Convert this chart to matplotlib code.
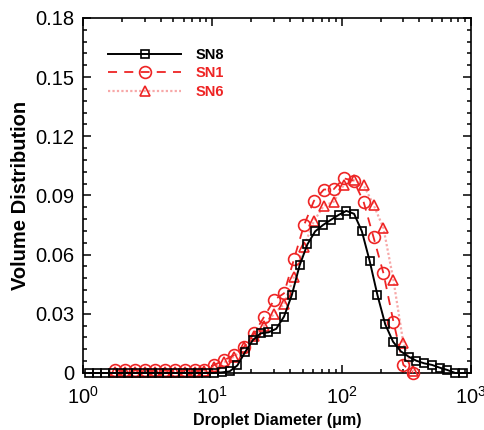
import matplotlib
matplotlib.use("Agg")
import matplotlib.pyplot as plt
from matplotlib.ticker import FixedLocator, FixedFormatter, LogLocator, NullFormatter
from matplotlib.lines import Line2D

plt.rcParams['font.family'] = ['Liberation Sans', 'DejaVu Sans']
plt.rcParams['mathtext.fontset'] = 'custom'
plt.rcParams['mathtext.rm'] = 'Liberation Sans'
plt.rcParams['mathtext.it'] = 'Liberation Sans:italic'
plt.rcParams['mathtext.bf'] = 'Liberation Sans:bold'

# SN8 size bins (um) and volume distribution
d_sn8 = [1.122, 1.289, 1.481, 1.701, 1.954, 2.244, 2.578, 2.961, 3.401, 3.906,
         4.487, 5.154, 5.920, 6.800, 7.811, 8.972, 10.31, 11.84, 13.60, 15.62,
         17.94, 20.61, 23.67, 27.19, 31.23, 35.87, 41.21, 47.33, 54.37, 62.45,
         71.73, 82.39, 94.64, 108.7, 124.9, 143.5, 164.8, 189.3, 217.4, 249.7,
         286.8, 329.4, 378.4, 434.6, 499.3, 573.5, 658.7, 756.6, 871.0]
v_sn8 = [0.0, 0.0, 0.0, 0.0, 0.0, 0.0, 0.0, 0.0, 0.0, 0.0,
         0.0, 0.0, 0.0, 0.0, 0.0, 0.0, 0.0, 0.0003, 0.0008, 0.0038,
         0.0106, 0.0167, 0.0201, 0.0206, 0.0224, 0.0286, 0.0395, 0.0545, 0.0652, 0.0718,
         0.0750, 0.0776, 0.0801, 0.0822, 0.0807, 0.0718, 0.0568, 0.0395, 0.0247, 0.0159,
         0.0110, 0.0083, 0.0062, 0.0049, 0.0041, 0.0027, 0.0015, 0.0, 0.0]

# SN1 / SN6 size bins (um)
d_red = [1.768, 2.110, 2.519, 3.007, 3.590, 4.285, 5.115, 6.106, 7.289, 8.701,
         10.39, 12.40, 14.80, 17.67, 21.09, 25.18, 30.05, 35.88, 42.83, 51.12,
         61.03, 72.85, 86.96, 103.8, 123.9, 147.9, 176.6, 210.8, 251.6, 300.4, 358.6]
v_sn1 = [0.0013, 0.0013, 0.0013, 0.0013, 0.0013, 0.0013, 0.0013, 0.0013, 0.0013, 0.0017,
         0.0041, 0.0066, 0.0091, 0.0133, 0.0201, 0.0285, 0.0370, 0.0404, 0.0577, 0.0748,
         0.0872, 0.0930, 0.0932, 0.0987, 0.0975, 0.0868, 0.0688, 0.0505, 0.0260, 0.0041, 0.0]
v_sn6 = [0.0005, 0.0005, 0.0005, 0.0005, 0.0005, 0.0005, 0.0005, 0.0005, 0.0006, 0.0010,
         0.0030, 0.0055, 0.0083, 0.0130, 0.0190, 0.0240, 0.0300, 0.0349, 0.0488, 0.0640,
         0.0770, 0.0848, 0.0868, 0.0953, 0.0978, 0.0953, 0.0853, 0.0734, 0.0471, 0.0150, 0.0010]

labels = ['SN8', 'SN1', 'SN6']
y_ticks = [0, 0.03, 0.06, 0.09, 0.12, 0.15, 0.18]
y_ticklabels = ['0', '0.03', '0.06', '0.09', '0.12', '0.15', '0.18']

RED = '#ee2424'
PINK = '#f7a8a8'

fig = plt.figure(figsize=(4.85, 4.30), dpi=100)
ax = fig.add_axes([0.171, 0.1326, 0.80, 0.8256])

ax.plot(d_red, v_sn6, linestyle=(0, (1, 1)), color=PINK, lw=1.6,
        marker='^', ms=7.5, mfc='none', mec=RED, mew=1.2, clip_on=False, zorder=3)
ax.plot(d_red, v_sn1, linestyle=(0, (5, 4)), color=RED, lw=1.3,
        marker='o', ms=8.5, mfc='none', mec=RED, mew=1.2, clip_on=False, zorder=4)
ax.plot(d_sn8, v_sn8, linestyle='-', color='black', lw=1.4,
        marker='s', ms=6.0, mfc='none', mec='black', mew=1.2, clip_on=False, zorder=5)

ax.set_xscale('log')
ax.set_xlim(1, 1000)
ax.set_ylim(0, 0.18)
ax.xaxis.set_major_locator(LogLocator(base=10, numticks=10))
ax.xaxis.set_minor_locator(LogLocator(base=10, subs=range(2, 10), numticks=20))
ax.xaxis.set_minor_formatter(NullFormatter())
ax.yaxis.set_major_locator(FixedLocator(y_ticks))
ax.yaxis.set_major_formatter(FixedFormatter(y_ticklabels))
ax.yaxis.set_minor_locator(FixedLocator([i * 0.006 for i in range(31)]))

ax.tick_params(which='both', direction='in', top=True, right=True, width=1.1)
ax.tick_params(which='major', length=6, labelsize=14.5)
ax.tick_params(axis='x', which='major', pad=9)
ax.tick_params(axis='y', which='major', pad=6)
ax.tick_params(which='minor', length=3)
for s in ax.spines.values():
    s.set_linewidth(1.2)

ax.set_xlabel('Droplet Diameter (μm)', fontsize=11.5, fontweight='bold', labelpad=4)
ax.set_ylabel('Volume Distribution', fontsize=14.5, fontweight='bold', labelpad=4)

handles = [
    Line2D([], [], linestyle='-', color='black', lw=1.4, marker='s', ms=6.0,
           mfc='none', mec='black', mew=1.2),
    Line2D([], [], linestyle=(0, (5, 4)), color=RED, lw=1.3, marker='o', ms=8.5,
           mfc='none', mec=RED, mew=1.2),
    Line2D([], [], linestyle=(0, (1, 1)), color=PINK, lw=1.6, marker='^', ms=7.5,
           mfc='none', mec=RED, mew=1.2),
]
leg = ax.legend(handles, labels, loc='upper left', bbox_to_anchor=(0.05, 0.932),
                frameon=False, prop={'weight': 'bold', 'size': 10.5},
                handlelength=5.0, handletextpad=1.0, labelspacing=0.3,
                borderaxespad=0.0)
for t, c in zip(leg.get_texts(), ['black', RED, RED]):
    t.set_color(c)

fig.savefig('out.png', dpi=100)
